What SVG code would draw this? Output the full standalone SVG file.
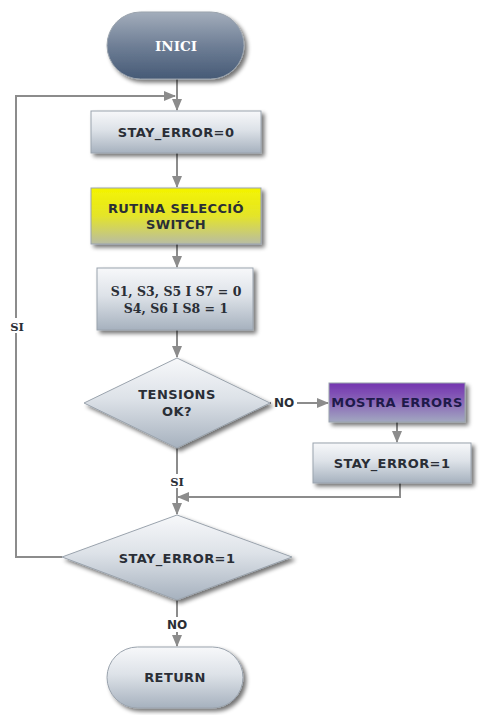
<svg xmlns="http://www.w3.org/2000/svg" width="481" height="715" viewBox="0 0 481 715">
  <defs>
    <linearGradient id="gSlate" x1="0" y1="0" x2="0" y2="1">
      <stop offset="0" stop-color="#a3adbb"/>
      <stop offset="0.5" stop-color="#6f7f96"/>
      <stop offset="1" stop-color="#465a76"/>
    </linearGradient>
    <linearGradient id="gLight" x1="0" y1="0" x2="0" y2="1">
      <stop offset="0" stop-color="#f7f8fa"/>
      <stop offset="0.45" stop-color="#dde2e8"/>
      <stop offset="1" stop-color="#a6b1be"/>
    </linearGradient>
    <linearGradient id="gYellow" x1="0" y1="0" x2="0" y2="1">
      <stop offset="0" stop-color="#f4f400"/>
      <stop offset="0.5" stop-color="#e4e42a"/>
      <stop offset="1" stop-color="#b8bca4"/>
    </linearGradient>
    <linearGradient id="gPurple" x1="0" y1="0" x2="0" y2="1">
      <stop offset="0" stop-color="#7434b0"/>
      <stop offset="0.5" stop-color="#8a68b8"/>
      <stop offset="1" stop-color="#a2a8c0"/>
    </linearGradient>
    <filter id="shadow" x="-10%" y="-10%" width="125%" height="135%">
      <feGaussianBlur in="SourceAlpha" stdDeviation="2"/>
      <feOffset dx="3" dy="3" result="b"/>
      <feComponentTransfer><feFuncA type="linear" slope="0.55"/></feComponentTransfer>
      <feMerge><feMergeNode/><feMergeNode in="SourceGraphic"/></feMerge>
    </filter>
    <marker id="arrow" viewBox="0 0 12 10" refX="11" refY="5" markerWidth="12" markerHeight="10" markerUnits="userSpaceOnUse" orient="auto">
      <path d="M0,0 L12,5 L0,10 Z" fill="#8c8c8c"/>
    </marker>
  </defs>
  <style>
    .box { stroke: #9aa3ad; stroke-width: 1; filter: url(#shadow); }
    .conn { fill: none; stroke: #8c8c8c; stroke-width: 2; }
    .sans { font-family: "DejaVu Sans", Verdana, sans-serif; font-weight: bold; font-size: 13px; letter-spacing: 0.4px; fill: #2a2e36; text-anchor: middle; }
    .serif { font-family: "DejaVu Serif", Georgia, serif; font-weight: bold; font-size: 12.5px; fill: #2a2e36; text-anchor: middle; }
    .lbl { font-family: "DejaVu Sans", Verdana, sans-serif; font-weight: bold; font-size: 12px; fill: #2a2e36; text-anchor: middle; }
  </style>

  <rect width="481" height="715" fill="#ffffff"/>

  <!-- connectors -->
  <g id="connectors">
    <path class="conn" d="M177,79 L177,110" marker-end="url(#arrow)"/>
    <path class="conn" d="M62,557 L16,557 L16,96 L175,96" marker-end="url(#arrow)"/>
    <path class="conn" d="M177,153 L177,187" marker-end="url(#arrow)"/>
    <path class="conn" d="M177,244 L177,267" marker-end="url(#arrow)"/>
    <path class="conn" d="M177,330 L177,357" marker-end="url(#arrow)"/>
    <path class="conn" d="M270,403 L328,403" marker-end="url(#arrow)"/>
    <path class="conn" d="M397,422 L397,442" marker-end="url(#arrow)"/>
    <path class="conn" d="M177,448 L177,514" marker-end="url(#arrow)"/>
    <path class="conn" d="M400,483 L400,497 L178,497" marker-end="url(#arrow)"/>
    <path class="conn" d="M177,600 L177,646" marker-end="url(#arrow)"/>
    <rect x="271" y="395" width="26" height="15" fill="#ffffff"/>
    <text class="lbl" x="284" y="407">NO</text>
    <rect x="163" y="474" width="28" height="14" fill="#ffffff"/>
    <text class="serif" x="177" y="486" style="font-size:11.5px">SI</text>
    <rect x="4" y="318" width="26" height="15" fill="#ffffff"/>
    <text class="serif" x="17" y="331" style="font-size:11.5px">SI</text>
    <rect x="163" y="617" width="28" height="15" fill="#ffffff"/>
    <text class="lbl" x="177" y="629">NO</text>
  </g>

  <g id="inici">
    <rect class="box" x="107" y="12" width="137" height="67" rx="33.5" fill="url(#gSlate)" stroke="#5c6b80"/>
    <text class="serif" x="176" y="51" style="fill:#ffffff;font-size:13.5px">INICI</text>
  </g>

  <g id="stay-error-0">
    <rect class="box" x="91" y="111" width="170" height="42" fill="url(#gLight)"/>
    <text class="sans" x="176" y="137">STAY_ERROR=0</text>
  </g>

  <g id="rutina">
    <rect class="box" x="91" y="188" width="170" height="56" fill="url(#gYellow)"/>
    <text class="sans" x="176" y="213">RUTINA SELECCIÓ</text>
    <text class="sans" x="176" y="229">SWITCH</text>
  </g>

  <g id="switches">
    <rect class="box" x="97" y="268" width="156" height="62" fill="url(#gLight)"/>
    <text class="serif" x="176" y="296">S1, S3, S5 I S7 = 0</text>
    <text class="serif" x="176" y="313">S4, S6 I S8 = 1</text>
  </g>

  <g id="tensions">
    <polygon class="box" points="177,358 270,403 177,448 84,403" fill="url(#gLight)"/>
    <text class="sans" x="177" y="399">TENSIONS</text>
    <text class="sans" x="177" y="416">OK?</text>
  </g>

  <g id="mostra-errors">
    <rect class="box" x="329" y="383" width="136" height="39" fill="url(#gPurple)"/>
    <text class="sans" x="397" y="407" style="fill:#1e1a4a">MOSTRA ERRORS</text>
  </g>

  <g id="stay-error-1-set">
    <rect class="box" x="313" y="443" width="158" height="40" fill="url(#gLight)"/>
    <text class="sans" x="392" y="468">STAY_ERROR=1</text>
  </g>

  <g id="stay-error-1-check">
    <polygon class="box" points="177,515 292,557 177,600 62,557" fill="url(#gLight)"/>
    <text class="sans" x="177" y="563">STAY_ERROR=1</text>
  </g>

  <g id="return">
    <rect class="box" x="107" y="647" width="136" height="61" rx="30.5" fill="url(#gLight)"/>
    <text class="sans" x="175" y="682">RETURN</text>
  </g>
</svg>
